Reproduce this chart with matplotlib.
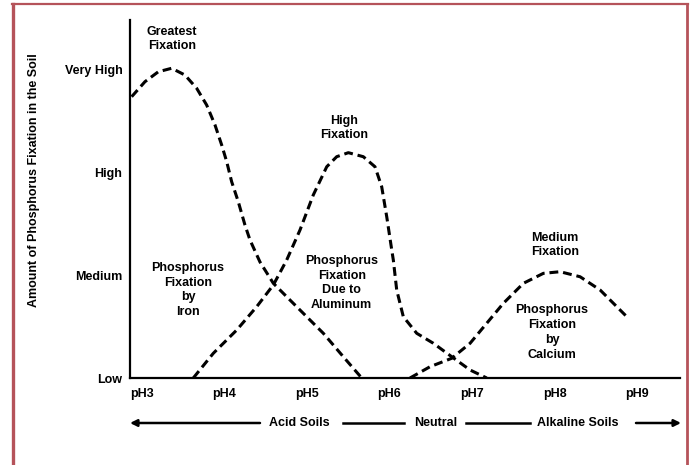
import matplotlib
matplotlib.use("Agg")
import matplotlib.pyplot as plt
from matplotlib.lines import Line2D

# ---------------- data ----------------
y_levels = [0, 1, 2, 3]
y_labels = ["Low", "Medium", "High", "Very High"]
x_ticks = [3, 4, 5, 6, 7, 8, 9]
x_labels = ["pH3", "pH4", "pH5", "pH6", "pH7", "pH8", "pH9"]

iron_ph = [2.875, 3.036, 3.198, 3.360, 3.521, 3.663, 3.784, 3.885, 3.966, 4.027, 4.087,
           4.167, 4.248, 4.309, 4.430, 4.592, 4.794, 4.996, 5.198, 5.440, 5.663]
iron_fix = [2.739, 2.885, 2.982, 3.016, 2.950, 2.821, 2.658, 2.464, 2.269, 2.106, 1.911,
            1.717, 1.490, 1.344, 1.130, 0.922, 0.759, 0.597, 0.435, 0.207, 0.0]

alum_ph = [3.622, 3.864, 4.148, 4.390, 4.592, 4.754, 4.915, 5.076, 5.239, 5.360, 5.501,
           5.682, 5.824, 5.905, 5.966, 6.027, 6.046, 6.087, 6.167, 6.330, 6.531, 6.754,
           6.976, 7.178]
alum_fix = [0.0, 0.240, 0.467, 0.694, 0.906, 1.149, 1.441, 1.782, 2.057, 2.155, 2.194,
            2.155, 2.057, 1.863, 1.571, 1.246, 1.149, 0.857, 0.597, 0.435, 0.338, 0.207,
            0.078, 0.0]

calc_ph = [6.248, 6.491, 6.754, 6.976, 7.178, 7.379, 7.622, 7.864, 8.067, 8.309, 8.552, 8.875]
calc_fix = [0.0, 0.110, 0.192, 0.338, 0.533, 0.727, 0.922, 1.019, 1.035, 0.986, 0.857, 0.597]

# ---------------- style ----------------
plt.rcParams["font.family"] = ["Liberation Sans", "DejaVu Sans"]
plt.rcParams["font.weight"] = "bold"
FS = 9

W, H = 691, 465
fig = plt.figure(figsize=(W / 100, H / 100), dpi=100)
fig.patch.set_facecolor("white")

left_px, right_px, bottom_px, top_px = 130, 680, 378, 20
ax = fig.add_axes([left_px / W, (H - bottom_px) / H,
                   (right_px - left_px) / W, (bottom_px - top_px) / H])

dash = (0, (2.9, 1.6))
for xs, ys in [(iron_ph, iron_fix), (alum_ph, alum_fix), (calc_ph, calc_fix)]:
    ax.plot(xs, ys, color="black", lw=2.2, linestyle=dash, dash_capstyle="butt",
            dash_joinstyle="round")

ax.set_xlim(2.855, 9.52)
ax.set_ylim(0, 3.486)
for s in ["top", "right"]:
    ax.spines[s].set_visible(False)
for s in ["left", "bottom"]:
    ax.spines[s].set_linewidth(1.6)
    ax.spines[s].set_color("black")

ax.set_yticks(y_levels)
ax.set_yticklabels(y_labels, fontsize=FS, fontweight="bold")
ax.set_xticks(x_ticks)
ax.set_xticklabels(x_labels, fontsize=FS, fontweight="bold")
ax.tick_params(axis="both", length=0)
ax.tick_params(axis="y", pad=5.5)
ax.tick_params(axis="x", pad=7)

ax.set_ylabel("Amount of Phosphorus Fixation in the Soil", fontsize=9, fontweight="bold")
ax.yaxis.set_label_coords((40 - left_px) / (right_px - left_px), (378 - 180) / 358)

txt = dict(ha="center", va="center", fontsize=FS, fontweight="bold", linespacing=1.3)
ax.text(3.364, 3.30, "Greatest\nFixation", **txt)
ax.text(5.448, 2.434, "High\nFixation", **txt)
ax.text(3.558, 0.857, "Phosphorus\nFixation\nby\nIron", **txt)
ax.text(5.42, 0.925, "Phosphorus\nFixation\nDue to\nAluminum", **txt)
ax.text(8.006, 1.295, "Medium\nFixation", **txt)
ax.text(7.97, 0.443, "Phosphorus\nFixation\nby\nCalcium", **txt)

# bottom soil-type arrows (figure coordinates)
ya = (H - 423) / H
def fx(px):
    return px / W
for label, px in [("Acid Soils", 299), ("Neutral", 436), ("Alkaline Soils", 578)]:
    fig.text(fx(px), ya, label, ha="center", va="center", fontsize=FS, fontweight="bold")
ax.annotate("", xy=(fx(130), ya), xytext=(fx(260), ya), xycoords="figure fraction",
            arrowprops=dict(arrowstyle="-|>", color="black", lw=1.8, mutation_scale=10,
                            shrinkA=0, shrinkB=0))
fig.add_artist(Line2D([fx(343), fx(404)], [ya, ya], color="black", lw=1.8))
fig.add_artist(Line2D([fx(466), fx(530)], [ya, ya], color="black", lw=1.8))
ax.annotate("", xy=(fx(681), ya), xytext=(fx(636), ya), xycoords="figure fraction",
            arrowprops=dict(arrowstyle="-|>", color="black", lw=1.8, mutation_scale=10,
                            shrinkA=0, shrinkB=0))

# red frame (left, top, right)
bc = "#b5535a"
fig.add_artist(Line2D([fx(12.5), fx(12.5)], [0, (H - 4) / H], color=bc, lw=2.4))
fig.add_artist(Line2D([fx(11.5), fx(688)], [(H - 4.3) / H, (H - 4.3) / H], color=bc, lw=1.6))
fig.add_artist(Line2D([fx(686.8), fx(686.8)], [0, (H - 4) / H], color=bc, lw=2.0))

fig.savefig("out.png", dpi=100, facecolor="white")
